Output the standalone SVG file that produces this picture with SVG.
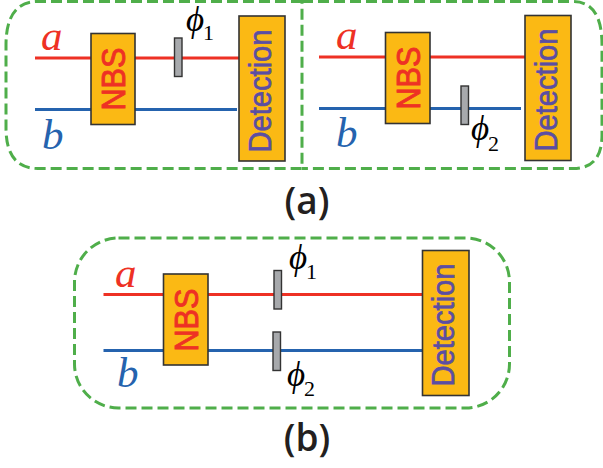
<svg xmlns="http://www.w3.org/2000/svg" width="603" height="468" viewBox="0 0 603 468">
<style>
.frame{fill:none;stroke:#4fae4a;stroke-width:3;stroke-dasharray:11 5}
.red{stroke:#ee3124;stroke-width:3;fill:none}
.blue{stroke:#2563ae;stroke-width:3;fill:none}
.box{fill:#fbb914;stroke:#333;stroke-width:1.6}
.plate{fill:#a7a9ac;stroke:#333;stroke-width:1.4}
.nbs{font:34px "Liberation Sans",Arial,sans-serif;fill:#ee3124;stroke:#ee3124;stroke-width:.9;text-anchor:middle}
.det{font:32px "Liberation Sans",Arial,sans-serif;fill:#5b4ea2;stroke:#5b4ea2;stroke-width:.7;text-anchor:middle}
.var{font:italic 43px "Liberation Serif","Times New Roman",serif}
.phi{font:italic 35px "Liberation Serif","Times New Roman",serif;fill:#000}
.sub{font:22px "Liberation Serif","Times New Roman",serif;fill:#000}
.cap{font:600 37px "Open Sans",sans-serif;fill:#231f20;text-anchor:middle}
</style>
<g id="frames">
<path class="frame" d="M302 1.500H38Q6 1.500 6 45V128Q6 168.500 38 168.500H302Z"/>
<path class="frame" d="M302 1.500H573Q602 1.500 602 45V135Q602 168.500 573 168.500H302"/>
<rect class="frame" x="74.500" y="238" width="435" height="170" rx="44" ry="44"/>
</g>
<g id="connectors">
<path class="red" d="M35 58H239"/>
<path class="blue" d="M35 109.500H237"/>
<path class="red" d="M319 57H525"/>
<path class="blue" d="M319 108.500H521"/>
<path class="red" d="M103.500 294.500H423"/>
<path class="blue" d="M103.500 350.500H423"/>
</g>
<g id="a1-nbs"><rect class="box" x="91" y="33.500" width="44" height="91"/><text class="nbs" textLength="63" lengthAdjust="spacingAndGlyphs" transform="translate(125 79) rotate(-90)">NBS</text></g>
<g id="a1-detection"><rect class="box" x="239" y="16" width="46" height="145"/><text class="det" textLength="123" lengthAdjust="spacingAndGlyphs" transform="translate(270.500 91) rotate(-90)">Detection</text></g>
<g id="a1-plate"><rect class="plate" x="174.500" y="38" width="7.500" height="38.500"/></g>
<g id="a2-nbs"><rect class="box" x="385.500" y="32.500" width="44.500" height="91"/><text class="nbs" textLength="63" lengthAdjust="spacingAndGlyphs" transform="translate(419.500 78) rotate(-90)">NBS</text></g>
<g id="a2-detection"><rect class="box" x="525" y="15.500" width="46" height="145"/><text class="det" textLength="123" lengthAdjust="spacingAndGlyphs" transform="translate(557 90) rotate(-90)">Detection</text></g>
<g id="a2-plate"><rect class="plate" x="461" y="86" width="7.500" height="38.500"/></g>
<g id="b-nbs"><rect class="box" x="163.500" y="274" width="44.500" height="91"/><text class="nbs" textLength="63" lengthAdjust="spacingAndGlyphs" transform="translate(197.500 320) rotate(-90)">NBS</text></g>
<g id="b-detection"><rect class="box" x="422.500" y="250.500" width="46.500" height="145"/><text class="det" textLength="123" lengthAdjust="spacingAndGlyphs" transform="translate(454 325) rotate(-90)">Detection</text></g>
<g id="b-plate1"><rect class="plate" x="274" y="270.500" width="7.500" height="38.500"/></g>
<g id="b-plate2"><rect class="plate" x="273" y="332" width="7.500" height="38.500"/></g>
<g id="labels">
<text class="var" x="41" y="50" fill="#ee3124">a</text>
<text class="var" x="42" y="149" fill="#2563ae">b</text>
<text class="var" x="336" y="49" fill="#ee3124">a</text>
<text class="var" x="336" y="147" fill="#2563ae">b</text>
<text class="var" x="115" y="287" fill="#ee3124">a</text>
<text class="var" x="117" y="387" fill="#2563ae">b</text>
<text class="phi" x="186" y="31">ϕ</text><text class="sub" x="203" y="40">1</text>
<text class="phi" x="471" y="140">ϕ</text><text class="sub" x="488" y="151">2</text>
<text class="phi" x="289" y="269">ϕ</text><text class="sub" x="306" y="279">1</text>
<text class="phi" x="287" y="386">ϕ</text><text class="sub" x="304" y="396">2</text>
<text class="cap" x="307" y="214">(a)</text>
<text class="cap" x="307" y="451">(b)</text>
</g>
</svg>
